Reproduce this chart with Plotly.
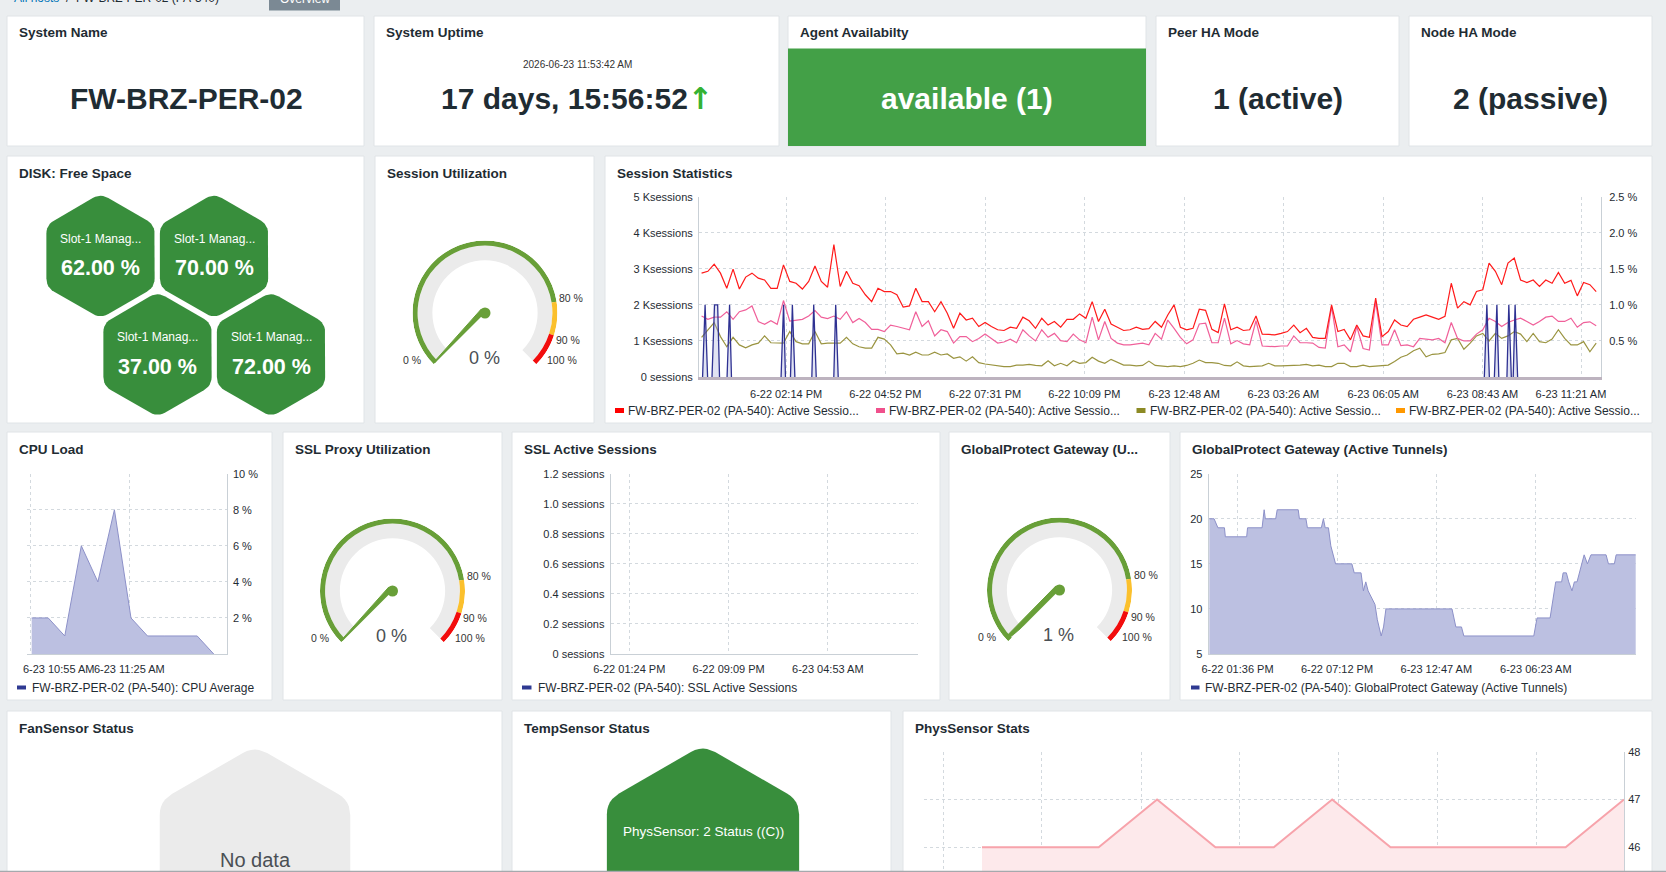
import math
import pandas as pd
import plotly.graph_objects as go

W, H = 1666, 872
FONT = "Liberation Sans, Arial, Helvetica, sans-serif"
INK = "#1f2c33"
PAGE = "#ebeef0"
GRID = "#d3d9de"
AXIS = "#c9d0d6"

# ---------------- data ----------------
system_name = "FW-BRZ-PER-02"
uptime_stamp = "2026-06-23 11:53:42 AM"
uptime_text = "17 days, 15:56:52"
agent_text = "available (1)"
peer_ha_text = "1 (active)"
node_ha_text = "2 (passive)"

disk_labels = ["Slot-1 Manag...", "Slot-1 Manag...", "Slot-1 Manag...", "Slot-1 Manag..."]
disk_free = [62.0, 70.0, 37.0, 72.0]

session_util = 0
ssl_proxy_util = 0
gp_gateway_util = 1
gauge_bands = [0, 80, 90, 100]
band_colors = ["#689f38", "#fbc02d", "#f20d0d"]

# Session statistics (Ksessions), sampled about every 10 minutes
sess_start = "2026-06-22 11:59:24"
sess_red = [2.88, 2.93, 3.13, 2.88, 2.46, 2.99, 2.44, 2.77, 2.88, 2.74, 2.69, 2.46, 2.46, 3.11, 2.65, 2.60,
            2.44, 2.65, 3.08, 2.65, 2.49, 3.67, 2.51, 2.93, 2.60, 2.53, 2.28, 2.09, 2.46, 2.37, 2.37, 2.28,
            1.94, 1.97, 2.46, 2.09, 2.09, 1.81, 2.09, 1.77, 1.35, 1.77, 1.58, 1.63, 1.40, 1.51, 1.40, 1.31,
            1.29, 1.38, 1.35, 1.66, 1.56, 1.35, 1.63, 1.44, 1.54, 1.38, 1.60, 1.60, 1.75, 1.63, 2.09, 1.54,
            1.88, 1.47, 1.38, 1.29, 1.31, 1.38, 1.32, 1.34, 1.54, 1.38, 1.72, 2.00, 1.38, 1.31, 1.35, 1.88,
            1.85, 1.32, 1.23, 2.03, 1.31, 1.38, 1.29, 1.31, 1.69, 1.19, 1.18, 1.17, 1.21, 1.26, 1.44,
            1.23, 1.35, 1.10, 1.07, 1.07, 2.00, 1.26, 1.32, 1.03, 1.44, 1.14, 1.10, 2.19, 1.12, 1.26, 1.58,
            1.44, 1.40, 1.60, 1.66, 1.72, 1.66, 1.60, 1.68, 2.60, 1.91, 2.09, 2.00, 2.37, 2.42, 3.16, 2.93,
            2.56, 3.16, 3.30, 2.69, 2.62, 2.69, 2.51, 2.69, 2.60, 2.90, 2.60, 2.68, 2.25, 2.62, 2.56, 2.37]
sess_pink = [1.69, 1.60, 1.66, 1.66, 1.81, 1.60, 1.81, 1.86, 1.97, 1.54, 1.46, 1.56, 1.46, 2.12, 1.55, 1.58,
             1.60, 1.69, 1.84, 1.66, 1.62, 1.69, 1.60, 1.81, 1.51, 1.62, 1.51, 1.32, 1.32, 1.26, 1.44, 1.40,
             1.35, 1.31, 1.81, 1.40, 1.56, 1.14, 1.31, 1.26, 0.94, 1.12, 1.12, 0.98, 1.07, 1.19, 1.07, 0.94,
             0.97, 1.05, 0.95, 1.31, 1.14, 1.00, 1.31, 1.10, 1.21, 1.01, 0.98, 1.19, 1.03, 0.95, 1.66, 1.03,
             1.54, 1.07, 0.94, 0.89, 0.89, 0.92, 0.94, 0.89, 1.21, 1.05, 1.58, 1.35, 1.10, 0.92, 1.03, 1.47,
             1.49, 0.95, 0.95, 1.63, 0.92, 1.01, 0.92, 0.89, 1.56, 0.86, 0.84, 0.84, 0.86, 0.86, 1.14,
             0.95, 0.95, 0.94, 0.82, 0.80, 1.95, 0.84, 0.89, 0.70, 1.40, 0.79, 0.75, 2.09, 0.89, 0.89, 1.31,
             0.87, 0.89, 0.84, 1.07, 1.05, 1.03, 1.07, 0.95, 1.51, 1.07, 1.00, 1.00, 1.19, 1.31, 1.63, 1.54,
             1.40, 1.51, 1.58, 1.63, 1.54, 1.44, 1.54, 1.66, 1.69, 1.54, 1.54, 1.63, 1.38, 1.51, 1.53, 1.42]
sess_olive = [1.10, 1.32, 1.51, 1.12, 0.84, 1.10, 0.89, 0.81, 0.89, 0.94, 1.14, 0.95, 0.94, 0.94, 1.26, 0.98,
              0.92, 0.92, 1.26, 0.92, 0.94, 0.95, 0.94, 1.10, 0.92, 0.84, 0.80, 0.80, 1.10, 1.05, 0.89, 0.64,
              0.66, 0.61, 0.69, 0.61, 0.61, 0.69, 0.61, 0.64, 0.52, 0.56, 0.44, 0.56, 0.40, 0.36, 0.33, 0.31,
              0.29, 0.29, 0.33, 0.33, 0.35, 0.32, 0.31, 0.45, 0.31, 0.38, 0.31, 0.45, 0.38, 0.40, 0.55, 0.44,
              0.38, 0.49, 0.40, 0.33, 0.33, 0.31, 0.32, 0.44, 0.32, 0.30, 0.29, 0.31, 0.29, 0.32, 0.38, 0.47,
              0.40, 0.40, 0.38, 0.32, 0.31, 0.42, 0.31, 0.29, 0.29, 0.31, 0.38, 0.31, 0.31, 0.31, 0.33,
              0.33, 0.35, 0.31, 0.33, 0.29, 0.29, 0.38, 0.38, 0.29, 0.29, 0.33, 0.29, 0.31, 0.31, 0.33, 0.43,
              0.55, 0.61, 0.73, 0.80, 0.56, 0.63, 0.64, 0.68, 1.03, 1.07, 0.77, 0.94, 1.14, 1.21, 1.00, 1.21,
              1.07, 1.14, 1.26, 1.19, 0.98, 1.21, 0.98, 0.95, 1.05, 1.31, 1.07, 0.89, 0.89, 0.98, 0.70, 0.94]
# spiky series (percent, right axis); None separates the individual spikes
navy_times = ["2026-06-22 12:01", "2026-06-22 12:05", "2026-06-22 12:09", None,
              "2026-06-22 12:16", "2026-06-22 12:20", "2026-06-22 12:25", "2026-06-22 12:28", None,
              "2026-06-22 12:40", "2026-06-22 12:44", "2026-06-22 12:47", None,
              "2026-06-22 14:06", "2026-06-22 14:10", "2026-06-22 14:13", None,
              "2026-06-22 14:21", "2026-06-22 14:24", "2026-06-22 14:28", None,
              "2026-06-22 14:55", "2026-06-22 14:58", "2026-06-22 15:02", None,
              "2026-06-22 15:30", "2026-06-22 15:33", "2026-06-22 15:37", None,
              "2026-06-23 08:46", "2026-06-23 08:50", "2026-06-23 08:54", None,
              "2026-06-23 09:02", "2026-06-23 09:06", "2026-06-23 09:09", None,
              "2026-06-23 09:22", "2026-06-23 09:25", "2026-06-23 09:29", None,
              "2026-06-23 09:32", "2026-06-23 09:35", "2026-06-23 09:39"]
navy_vals = [0, 1.0, 0, None,
             0, 1.0, 1.0, 0, None,
             0, 1.0, 0, None,
             0, 1.0, 0, None,
             0, 1.0, 0, None,
             0, 1.0, 0, None,
             0, 1.0, 0, None,
             0, 1.0, 0, None,
             0, 1.0, 0, None,
             0, 1.0, 0, None,
             0, 1.0, 0]
sess_tickvals = ["2026-06-22 14:14", "2026-06-22 16:52", "2026-06-22 19:31", "2026-06-22 22:09",
                 "2026-06-23 00:48", "2026-06-23 03:26", "2026-06-23 06:05", "2026-06-23 08:43", "2026-06-23 11:21"]
sess_ticktext = ["6-22 02:14 PM", "6-22 04:52 PM", "6-22 07:31 PM", "6-22 10:09 PM", "6-23 12:48 AM",
                 "6-23 03:26 AM", "6-23 06:05 AM", "6-23 08:43 AM", "6-23 11:21 AM"]
sess_left_ticks = [0, 1, 2, 3, 4, 5]
sess_left_text = ["0 sessions", "1 Ksessions", "2 Ksessions", "3 Ksessions", "4 Ksessions", "5 Ksessions"]
sess_right_ticks = [0.5, 1.0, 1.5, 2.0, 2.5]
sess_right_text = ["0.5 %", "1.0 %", "1.5 %", "2.0 %", "2.5 %"]
sess_legend = ["FW-BRZ-PER-02 (PA-540): Active Sessio..."] * 4
sess_legend_colors = ["#ff0000", "#f0508c", "#8c8a24", "#ff9800"]

cpu_times = ["2026-06-23 10:55:30", "2026-06-23 11:00:30", "2026-06-23 11:05:30", "2026-06-23 11:10:30",
             "2026-06-23 11:15:30", "2026-06-23 11:20:30", "2026-06-23 11:25:30", "2026-06-23 11:30:30",
             "2026-06-23 11:35:30", "2026-06-23 11:40:30", "2026-06-23 11:45:30", "2026-06-23 11:50:30"]
cpu_vals = [2, 2, 1, 6, 4, 8, 2, 1, 1, 1, 1, 0]
cpu_gridvals = ["2026-06-23 10:55", "2026-06-23 11:25"]
# label anchor times (first label is pushed right so it stays inside the panel)
cpu_labelvals = ["2026-06-23 11:03:40", "2026-06-23 11:25"]
cpu_ticktext = ["6-23 10:55 AM", "6-23 11:25 AM"]

ssl_tickvals = ["2026-06-22 13:24", "2026-06-22 21:09", "2026-06-23 04:53"]
ssl_ticktext = ["6-22 01:24 PM", "6-22 09:09 PM", "6-23 04:53 AM"]
ssl_yticks = [0, 0.2, 0.4, 0.6, 0.8, 1.0, 1.2]
ssl_ytext = ["0 sessions", "0.2 sessions", "0.4 sessions", "0.6 sessions", "0.8 sessions", "1.0 sessions", "1.2 sessions"]

gp_times = ["2026-06-22 12:01", "2026-06-22 12:17", "2026-06-22 12:30", "2026-06-22 12:52", "2026-06-22 12:55",
            "2026-06-22 14:07", "2026-06-22 14:10", "2026-06-22 14:59", "2026-06-22 15:06", "2026-06-22 15:10",
            "2026-06-22 15:45", "2026-06-22 15:50", "2026-06-22 17:01", "2026-06-22 17:05", "2026-06-22 17:27",
            "2026-06-22 17:32", "2026-06-22 18:19", "2026-06-22 18:26", "2026-06-22 18:32", "2026-06-22 18:43",
            "2026-06-22 18:51", "2026-06-22 18:59", "2026-06-22 19:07", "2026-06-22 20:02", "2026-06-22 20:10",
            "2026-06-22 20:33", "2026-06-22 20:41", "2026-06-22 20:49", "2026-06-22 20:57", "2026-06-22 21:20",
            "2026-06-22 21:28", "2026-06-22 21:41", "2026-06-22 21:49", "2026-06-22 21:57", "2026-06-23 01:40",
            "2026-06-23 01:53", "2026-06-23 02:12", "2026-06-23 02:20", "2026-06-23 06:16", "2026-06-23 06:27",
            "2026-06-23 07:11", "2026-06-23 07:30", "2026-06-23 07:50", "2026-06-23 07:55", "2026-06-23 08:06",
            "2026-06-23 08:14", "2026-06-23 08:25", "2026-06-23 08:33", "2026-06-23 08:42", "2026-06-23 08:58",
            "2026-06-23 09:06", "2026-06-23 09:17", "2026-06-23 09:29", "2026-06-23 10:20", "2026-06-23 10:28",
            "2026-06-23 10:48", "2026-06-23 10:54", "2026-06-23 12:00"]
gp_vals = [20, 20, 19, 19, 18, 18, 19, 19, 21, 20, 20, 21, 21, 20, 20, 19, 19, 20, 19, 19,
           17, 16, 15, 15, 14, 14, 12, 13, 12, 10.5, 8.8, 7, 8, 10, 10, 8, 8, 7, 7, 9,
           9, 13, 13, 14, 14, 13, 12, 13, 13, 15, 16, 15, 16, 16, 15, 15, 16, 16]
gp_tickvals = ["2026-06-22 13:36", "2026-06-22 19:12", "2026-06-23 00:47", "2026-06-23 06:23"]
gp_ticktext = ["6-22 01:36 PM", "6-22 07:12 PM", "6-23 12:47 AM", "6-23 06:23 AM"]
gp_yticks = [5, 10, 15, 20, 25]

phys_times = ["2026-06-22 13:55", "2026-06-22 15:55", "2026-06-22 17:55", "2026-06-22 19:55", "2026-06-22 21:55",
              "2026-06-22 23:55", "2026-06-23 01:55", "2026-06-23 03:55", "2026-06-23 05:55", "2026-06-23 07:55",
              "2026-06-23 09:55", "2026-06-23 11:55"]
phys_vals = [46, 46, 46, 47, 46, 46, 47, 46, 46, 46, 46, 47]
phys_gridvals = ["2026-06-22 12:35", "2026-06-22 15:58", "2026-06-22 19:22", "2026-06-22 22:45",
                 "2026-06-23 02:09", "2026-06-23 05:32", "2026-06-23 08:56"]
phys_yticks = [46, 47, 48]

temp_sensor_text = "PhysSensor: 2 Status ((C))"
fan_sensor_text = "No data"

# ---------------- helpers ----------------
def X(p):
    return p / W


def Y(p):
    return 1 - p / H


shapes = []
annotations = []


def text(x, y, s, size, color=INK, bold=False, xa="center", ya="middle"):
    annotations.append(dict(xref="paper", yref="paper", x=X(x), y=Y(y),
                            text=("<b>%s</b>" % s) if bold else s, showarrow=False,
                            xanchor=xa, yanchor=ya,
                            font=dict(family=FONT, size=size, color=color)))


def rect(x0, y0, x1, y1, fill, line=None, layer="below"):
    shapes.append(dict(type="rect", xref="paper", yref="paper", x0=X(x0), x1=X(x1), y0=Y(y1), y1=Y(y0),
                       fillcolor=fill, line=dict(width=0) if line is None else dict(color=line, width=1),
                       layer=layer))


fig = go.Figure()

# ---------------- panels ----------------
panels = [
    (7, 16, 364, 146, "System Name"),
    (374, 16, 779, 146, "System Uptime"),
    (788, 16, 1146, 146, "Agent Availabilty"),
    (1156, 16, 1399, 146, "Peer HA Mode"),
    (1409, 16, 1652, 146, "Node HA Mode"),
    (7, 156, 364, 423, "DISK: Free Space"),
    (375, 156, 594, 423, "Session Utilization"),
    (605, 156, 1652, 423, "Session Statistics"),
    (7, 432, 272, 700, "CPU Load"),
    (283, 432, 502, 700, "SSL Proxy Utilization"),
    (512, 432, 940, 700, "SSL Active Sessions"),
    (949, 432, 1170, 700, "GlobalProtect Gateway (U..."),
    (1180, 432, 1652, 700, "GlobalProtect Gateway (Active Tunnels)"),
    (7, 711, 502, 890, "FanSensor Status"),
    (512, 711, 891, 890, "TempSensor Status"),
    (903, 711, 1652, 890, "PhysSensor Stats"),
]
for (x0, y0, x1, y1, title) in panels:
    rect(x0, y0, x1, y1, "#ffffff", line="#e0e4e7")
    text(x0 + 10, y0 + 17, title, 13.5, bold=True, xa="left")

# agent availability green block
rect(788, 48.5, 1146, 146, "#43a047")

# breadcrumb / header strip (cut at the top edge, as in the page)
text(12, 7.5, "<span style='color:#0275b8'>All hosts</span>  /  FW-BRZ-PER-02 (PA-540)", 12, color=INK, xa="left", ya="bottom")
rect(269, -4, 340, 10.5, "#7b8994")
text(304.5, 8, "Overview", 12, color="#ffffff", ya="bottom")

# top row big values
text(186, 98, system_name, 30, bold=True)
text(577, 64, uptime_stamp, 10, color="#333333")
text(577, 98, uptime_text + "<span style='color:#34b233;font-family:DejaVu Sans'>\u2191</span>", 30, bold=True)
text(967, 98, agent_text, 30, color="#ffffff", bold=True)
text(1277.5, 98, peer_ha_text, 30, bold=True)
text(1530.5, 98, node_ha_text, 30, bold=True)

# ---------------- canvas subplot (pixel coordinates) for honeycomb ----------------
def rounded_hex(cx, cy, r, rc):
    verts = [(cx + r * math.cos(math.radians(90 + 60 * i)), cy - r * math.sin(math.radians(90 + 60 * i)))
             for i in range(6)]
    xs, ys = [], []
    t = rc / r
    for i in range(6):
        vx, vy = verts[i]
        px_, py_ = verts[i - 1]
        nx, ny = verts[(i + 1) % 6]
        ax, ay = vx + (px_ - vx) * t, vy + (py_ - vy) * t
        bx, by = vx + (nx - vx) * t, vy + (ny - vy) * t
        for j in range(7):
            s = j / 6
            xs.append((1 - s) ** 2 * ax + 2 * (1 - s) * s * vx + s ** 2 * bx)
            ys.append((1 - s) ** 2 * ay + 2 * (1 - s) * s * vy + s ** 2 * by)
    xs.append(xs[0])
    ys.append(ys[0])
    return xs, ys


HEX_GREEN = "#388e3c"
for i, (lab, val) in enumerate(zip(disk_labels, disk_free)):
    row, col = divmod(i, 2)
    cx = 100.5 + col * 113.5 + row * 57
    cy = 256 + row * 98.5
    hx, hy = rounded_hex(cx, cy, 62.5, 9)
    fig.add_trace(go.Scatter(x=hx, y=hy, mode="lines", fill="toself", fillcolor=HEX_GREEN,
                             line=dict(width=0, color=HEX_GREEN), hoverinfo="skip", xaxis="x7", yaxis="y7"))
    text(cx, cy - 17.5, lab, 12, color="#ffffff")
    text(cx, cy + 12, "%.2f %%" % val, 21.5, color="#ffffff", bold=True)

fx, fy = rounded_hex(255, 856, 110, 14)
fig.add_trace(go.Scatter(x=fx, y=fy, mode="lines", fill="toself", fillcolor="#ebebeb",
                         line=dict(width=0, color="#ebebeb"), hoverinfo="skip", xaxis="x7", yaxis="y7"))
text(255, 860, fan_sensor_text, 20, color="#4a4f54")
tx, ty = rounded_hex(703, 856, 111, 14)
fig.add_trace(go.Scatter(x=tx, y=ty, mode="lines", fill="toself", fillcolor=HEX_GREEN,
                         line=dict(width=0, color=HEX_GREEN), hoverinfo="skip", xaxis="x7", yaxis="y7"))
text(703, 831, temp_sensor_text, 13.5, color="#ffffff")

# ---------------- gauges (polar subplots) ----------------
SWEEP = 270 / 100.0
R = 72.5
NEEDLE = "#689f38"
TRACK = "#ebebeb"


def gauge(name, value, cx, cy):
    fig.add_trace(go.Barpolar(r=[0.93 - 0.726], base=[0.726], theta=[50 * SWEEP], width=[100 * SWEEP],
                              marker=dict(color=TRACK, line=dict(width=0)), subplot=name, hoverinfo="skip"))
    for a, b, col in zip(gauge_bands[:-1], gauge_bands[1:], band_colors):
        fig.add_trace(go.Barpolar(r=[0.07], base=[0.93], theta=[(a + b) / 2 * SWEEP], width=[(b - a) * SWEEP],
                                  marker=dict(color=col, line=dict(width=0)), subplot=name, hoverinfo="skip"))
    tv = value * SWEEP
    fig.add_trace(go.Scatterpolar(r=[0.075, 0.97, 0.97, 0.075, 0.075], theta=[tv + 90, tv + 1.2, tv - 1.2, tv - 90, tv + 90],
                                  mode="lines", fill="toself", fillcolor=NEEDLE, line=dict(color=NEEDLE, width=1),
                                  subplot=name, hoverinfo="skip", cliponaxis=False))
    fig.add_trace(go.Scatterpolar(r=[0], theta=[0], mode="markers", marker=dict(size=11, color=NEEDLE),
                                  subplot=name, hoverinfo="skip", cliponaxis=False))
    offsets = [(-73, 47), (86, -15.5), (83, 27), (77, 46.5)]
    for b, (dx, dy) in zip(gauge_bands, offsets):
        text(cx + dx, cy + dy, "%d %%" % b, 10.5, color="#333333")
    text(cx - 1, cy + 45, "%d %%" % value, 18, color="#4a4f54")
    return dict(domain=dict(x=[X(cx - R), X(cx + R)], y=[Y(cy + 0.70711 * R), Y(cy - R)]),
                sector=[-45, 225], hole=0, bgcolor="rgba(0,0,0,0)",
                angularaxis=dict(rotation=225, direction="clockwise", showgrid=False, showline=False,
                                 showticklabels=False, ticks=""),
                radialaxis=dict(range=[0, 1], showgrid=False, showline=False, showticklabels=False, ticks=""))


polar1 = gauge("polar", session_util, 485, 313)
polar2 = gauge("polar2", ssl_proxy_util, 392.5, 591)
polar3 = gauge("polar3", gp_gateway_util, 1059.5, 590)

# ---------------- session statistics ----------------
sess_times = pd.date_range(sess_start, periods=len(sess_red), freq="602s")
fig.add_trace(go.Scatter(x=navy_times, y=navy_vals, mode="lines", line=dict(color="#2e3192", width=1.3),
                         fill="tozeroy", fillcolor="rgba(170,174,220,0.35)", connectgaps=False,
                         xaxis="x", yaxis="y2", hoverinfo="skip"))
fig.add_trace(go.Scatter(x=sess_times, y=sess_olive, mode="lines", line=dict(color="#9a9440", width=1.2),
                         xaxis="x", yaxis="y", hoverinfo="skip"))
fig.add_trace(go.Scatter(x=sess_times, y=sess_pink, mode="lines", line=dict(color="#f0609a", width=1.2),
                         xaxis="x", yaxis="y", hoverinfo="skip"))
fig.add_trace(go.Scatter(x=sess_times, y=sess_red, mode="lines", line=dict(color="#ff1a1a", width=1.2),
                         xaxis="x", yaxis="y", hoverinfo="skip"))

leg_x = [615, 876, 1136.5, 1396]
for lx, lab, col in zip(leg_x, sess_legend, sess_legend_colors):
    rect(lx, 408, lx + 9, 413, col, layer="above")
    text(lx + 11, 410.5, lab, 12, xa="left")

# ---------------- CPU load ----------------
fig.add_trace(go.Scatter(x=cpu_times, y=cpu_vals, mode="lines", line=dict(color="#8c90c8", width=1),
                         fill="tozeroy", fillcolor="#bcc0e1", xaxis="x3", yaxis="y3", hoverinfo="skip"))
fig.add_trace(go.Scatter(x=[], y=[], mode="lines", xaxis="x8", yaxis="y3", hoverinfo="skip"))
rect(17, 685.5, 26, 689.5, "#2f3a92", layer="above")
text(29.5, 687.5, "FW-BRZ-PER-02 (PA-540): CPU Average", 12, xa="left")

# ---------------- SSL active sessions (no data) ----------------
fig.add_trace(go.Scatter(x=[], y=[], mode="lines", line=dict(color="#2f3a92"), xaxis="x4", yaxis="y4"))
rect(522, 685.5, 531.5, 689.5, "#2f3a92", layer="above")
text(535.5, 687.5, "FW-BRZ-PER-02 (PA-540): SSL Active Sessions", 12, xa="left")

# ---------------- GP active tunnels ----------------
fig.add_trace(go.Scatter(x=gp_times, y=gp_vals, mode="lines", line=dict(color="#8c90c8", width=1),
                         fill="tozeroy", fillcolor="#bcc0e1", xaxis="x5", yaxis="y5", hoverinfo="skip"))
rect(1191, 685.5, 1199.5, 689.5, "#2f3a92", layer="above")
text(1203, 687.5, "FW-BRZ-PER-02 (PA-540): GlobalProtect Gateway (Active Tunnels)", 12, xa="left")

# ---------------- PhysSensor stats ----------------
fig.add_trace(go.Scatter(x=phys_times, y=phys_vals, mode="lines", line=dict(color="#f7a3ab", width=2),
                         fill="tozeroy", fillcolor="#fde9eb", xaxis="x6", yaxis="y6", hoverinfo="skip"))

# bottom window edge
shapes.append(dict(type="line", xref="paper", yref="paper", x0=0, x1=1, y0=Y(871.5), y1=Y(871.5),
                   line=dict(color="#a5a9ad", width=1.5), layer="above"))

# ---------------- axes ----------------
TF = dict(family=FONT, size=11, color=INK)


def xax(d0, d1, rng, tv, tt, anchor, showline=True, linecolor=AXIS, linewidth=1, labels=True, grid=True):
    return dict(domain=[X(d0), X(d1)], type="date", range=rng, tickmode="array", tickvals=tv, ticktext=tt,
                showgrid=grid, gridcolor=GRID, griddash="dot", gridwidth=1, zeroline=False,
                showline=showline, linecolor=linecolor, linewidth=linewidth, ticks="outside", ticklen=5,
                tickcolor="rgba(0,0,0,0)", tickfont=TF, anchor=anchor, fixedrange=True, showticklabels=labels,
                automargin=False, tickangle=0)


def yax(top, bottom, rng, tv, tt, anchor, side="left", grid=True, ticklen=3):
    return dict(domain=[max(0, Y(bottom)), Y(top)], range=rng, tickmode="array", tickvals=tv, ticktext=tt,
                showgrid=grid, gridcolor=GRID, griddash="dot", gridwidth=1, zeroline=False,
                showline=True, linecolor=AXIS, linewidth=1, ticks="outside", ticklen=ticklen,
                tickcolor="rgba(0,0,0,0)", tickfont=TF, anchor=anchor, side=side, fixedrange=True,
                automargin=False)


nb = "\u00a0"
cpu_range = ["2026-06-23 10:54:00", "2026-06-23 11:54:25"]
layout = dict(
    width=W, height=H, margin=dict(l=0, r=0, t=0, b=0, pad=0, autoexpand=False), autosize=False,
    paper_bgcolor=PAGE, plot_bgcolor="rgba(0,0,0,0)", showlegend=False, hovermode=False,
    font=dict(family=FONT, color=INK),
    xaxis=dict(xax(699, 1601, ["2026-06-22 11:55:18", "2026-06-23 11:51:48"], sess_tickvals,
                   sess_ticktext[:-1] + [sess_ticktext[-1] + nb * 7], "y", linecolor="#bdb3bf", linewidth=3),
               ticklabeloverflow="allow"),
    yaxis=yax(196.7, 377, [0, 5], sess_left_ticks, sess_left_text, "x"),
    yaxis2=dict(yax(196.7, 377, [0, 2.5], sess_right_ticks, sess_right_text, "x", side="right", grid=False, ticklen=5),
                overlaying="y"),
    xaxis3=xax(26.7, 226.7, cpu_range, cpu_gridvals, ["", ""], "y3", labels=False),
    xaxis8=dict(xax(26.7, 226.7, cpu_range, cpu_labelvals, cpu_ticktext, "y3", showline=False, grid=False),
                overlaying="x3"),
    yaxis3=yax(473.7, 654, [0, 10], [2, 4, 6, 8, 10], ["2 %", "4 %", "6 %", "8 %", "10 %"], "x3", side="right"),
    xaxis4=xax(610.7, 918, ["2026-06-22 11:57", "2026-06-23 11:55"], ssl_tickvals, ssl_ticktext, "y4"),
    yaxis4=yax(473.7, 654, [0, 1.2], ssl_yticks, ssl_ytext, "x4"),
    xaxis5=xax(1208.6, 1636, ["2026-06-22 11:58:30", "2026-06-23 12:01"], gp_tickvals, gp_ticktext, "y5"),
    yaxis5=yax(473.7, 654, [5, 25], gp_yticks, [str(v) for v in gp_yticks], "x5"),
    xaxis6=xax(923.6, 1624, ["2026-06-22 11:55", "2026-06-23 11:55"], phys_gridvals, [""] * len(phys_gridvals),
               "y6", showline=False, labels=False),
    yaxis6=yax(751.7, 872, [45.483, 48], phys_yticks, [str(v) for v in phys_yticks], "x6", side="right", ticklen=1),
    xaxis7=dict(domain=[0, 1], range=[0, W], visible=False, fixedrange=True, anchor="y7"),
    yaxis7=dict(domain=[0, 1], range=[H, 0], visible=False, fixedrange=True, anchor="x7"),
    polar=polar1, polar2=polar2, polar3=polar3,
    shapes=shapes, annotations=annotations,
)
fig.update_layout(**layout)
fig.write_html("out.html")
